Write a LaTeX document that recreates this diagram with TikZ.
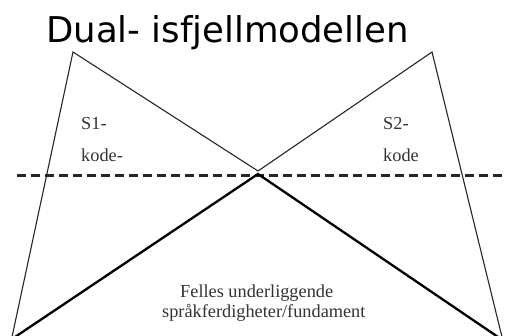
\documentclass[tikz,border=0pt]{standalone}
\usepackage{fontspec}
\setmainfont{Liberation Serif}
\newfontfamily\titlefont{DejaVu Sans}
\begin{document}
\begin{tikzpicture}[x=1pt,y=-1pt,
  thinline/.style={line width=1.1pt,black!85},
  thickline/.style={line width=2.3pt,black},
  dashline/.style={line width=2.4pt,black!85,dash pattern=on 9pt off 5pt},
  lbl/.style={anchor=base west,inner sep=0pt,font=\fontsize{18.3}{20}\selectfont,text=black!80},
  titlelbl/.style={anchor=base west,inner sep=0pt,font=\titlefont\fontsize{35.5}{40}\selectfont}]
\useasboundingbox (0,0) rectangle (505,336);
\fill[white] (0,0) rectangle (505,336);
% key points
\coordinate (apexL) at (73,52);
\coordinate (apexR) at (432,52);
\coordinate (mid) at (258,171);
\coordinate (midlow) at (258,174);
\coordinate (botLthin) at (12,337);
\coordinate (botRthin) at (502,337);
\coordinate (botLthick) at (15,337);
\coordinate (botRthick) at (498,337);
\coordinate (dashL) at (17,175.5);
\coordinate (dashR) at (506,175.5);
% title
\node[titlelbl] (title) at (46,43) {Dual- isfjellmodellen};
% thin triangles
\draw[thinline] (botLthin) -- (apexL) -- (mid) -- (apexR) -- (botRthin);
% dashed waterline
\draw[dashline] (dashL) -- (dashR);
% thick base
\draw[thickline,line join=miter] (botLthick) -- (midlow) -- (botRthick);
% labels
\node[lbl] (s1) at (81,130) {S1-};
\node[lbl] (k1) at (81,162) {kode-};
\node[lbl] (s2) at (383,130) {S2-};
\node[lbl] (k2) at (383,162) {kode};
\node[lbl] (f1) at (180,297) {Felles underliggende};
\node[lbl] (f2) at (162,317) {språkferdigheter/fundament};
\end{tikzpicture}
\end{document}
